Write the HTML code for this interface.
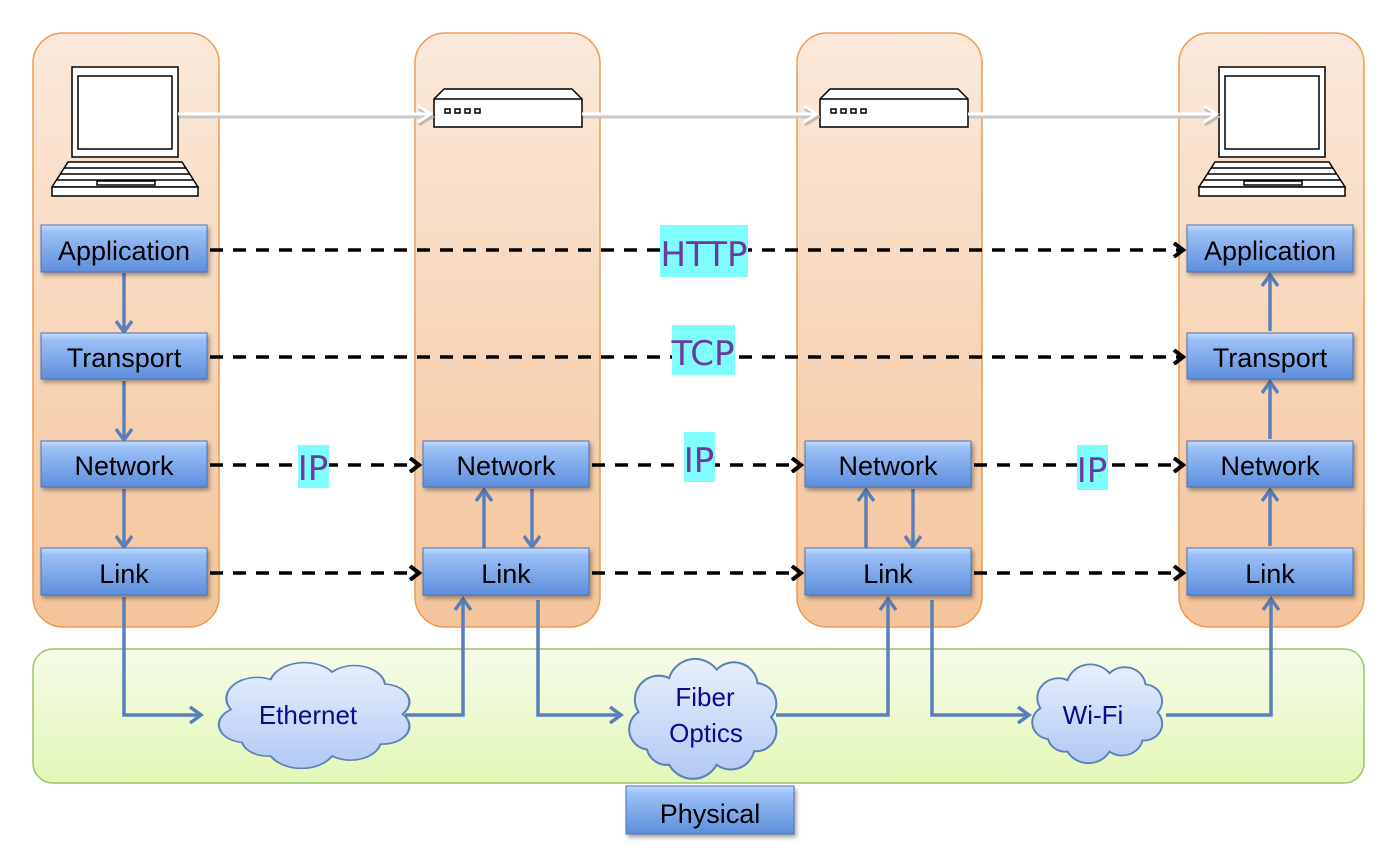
<!DOCTYPE html>
<html><head><meta charset="utf-8"><style>
html,body{margin:0;padding:0;background:#fff;}
svg{display:block;font-family:"Liberation Sans",sans-serif;}
</style></head><body>
<svg width="1396" height="854" viewBox="0 0 1396 854">
<defs>
<linearGradient id="col" x1="0" y1="0" x2="0" y2="1"><stop offset="0" stop-color="#fbe9db"/><stop offset="1" stop-color="#f4c49a"/></linearGradient>
<linearGradient id="grn" x1="0" y1="0" x2="0" y2="1"><stop offset="0" stop-color="#f6fbe9"/><stop offset="1" stop-color="#e2f7b6"/></linearGradient>
<linearGradient id="box" x1="0" y1="0" x2="0" y2="1"><stop offset="0" stop-color="#c5dcfb"/><stop offset="0.15" stop-color="#9cc0f6"/><stop offset="1" stop-color="#5d8fdc"/></linearGradient>
<linearGradient id="cld" x1="0" y1="0" x2="0" y2="1"><stop offset="0" stop-color="#e8effd"/><stop offset="1" stop-color="#b2c9f4"/></linearGradient>
<marker id="bh" markerWidth="16" markerHeight="18" refX="12" refY="9" orient="auto" markerUnits="userSpaceOnUse" viewBox="0 0 16 18"><path d="M2,1 L13,9 L2,17" fill="none" stroke="#5b7fb9" stroke-width="3.5"/></marker>
<marker id="kh" markerWidth="14" markerHeight="16" refX="10" refY="8" orient="auto" markerUnits="userSpaceOnUse" viewBox="0 0 14 16"><path d="M2,1 L11,8 L2,15" fill="none" stroke="#000" stroke-width="4"/></marker>
<marker id="wh" markerWidth="16" markerHeight="18" refX="13" refY="9" orient="auto" markerUnits="userSpaceOnUse" viewBox="0 0 16 18"><path d="M1,1 L14,9 L1,17" fill="none" stroke="#fff" stroke-width="2.5"/></marker>
<marker id="gh" markerWidth="16" markerHeight="18" refX="13" refY="9" orient="auto" markerUnits="userSpaceOnUse" viewBox="0 0 16 18"><path d="M1,1 L14,9 L1,17" fill="none" stroke="#bbb" stroke-width="3"/></marker>
<path id="cloud" d="M20,55 a12,12 0 0 1 -5,-22 a14,14 0 0 1 18,-20 a16,16 0 0 1 28,-5 a14,14 0 0 1 24,8 a12,12 0 0 1 8,20 a12,12 0 0 1 -10,20 a14,14 0 0 1 -22,8 a16,16 0 0 1 -28,0 a12,12 0 0 1 -13,-9 z"/>
<g id="laptop" fill="#fff" stroke="#000" stroke-width="1.5">
<rect x="0" y="0" width="106" height="90"/><rect x="6" y="9" width="94" height="73"/>
<path d="M-4,95 L110,95 L126,120 L-20,120 Z"/><rect x="-20" y="120" width="146" height="9"/>
<line x1="-8" y1="101" x2="114" y2="101"/><line x1="-12" y1="107" x2="118" y2="107"/><line x1="-16" y1="113" x2="122" y2="113"/>
<rect x="25" y="114" width="58" height="4"/></g>
<g id="router" fill="#fff" stroke="#000" stroke-width="1.5">
<path d="M0,10 L10,0 L138,0 L148,10 L148,38 L0,38 Z"/><line x1="0" y1="10" x2="148" y2="10"/>
<rect x="11" y="20" width="5" height="4"/><rect x="21" y="20" width="5" height="4"/><rect x="31" y="20" width="5" height="4"/><rect x="41" y="20" width="5" height="4"/></g>
</defs>

<g fill="url(#col)" stroke="#ef9a55" stroke-width="1.5">
<rect x="33" y="33" width="186" height="594" rx="30"/>
<rect x="415" y="33" width="185" height="594" rx="30"/>
<rect x="797" y="33" width="185" height="594" rx="30"/>
<rect x="1179" y="33" width="185" height="594" rx="30"/>
</g>
<rect x="33" y="649" width="1331" height="134" rx="20" fill="url(#grn)" stroke="#9cc46a" stroke-width="1.5"/>

<use href="#laptop" x="72" y="67"/>
<use href="#laptop" x="1219" y="67"/>
<use href="#router" x="434" y="89"/>
<use href="#router" x="820" y="89"/>
<g stroke="#c8c8c8" stroke-width="3" marker-end="url(#gh)" transform="translate(1,3)">
<line x1="178" y1="114" x2="430" y2="114"/>
<line x1="582" y1="114" x2="816" y2="114"/>
<line x1="968" y1="114" x2="1216" y2="114"/>
</g>
<g stroke="#fff" stroke-width="3" marker-end="url(#wh)">
<line x1="178" y1="114" x2="430" y2="114"/>
<line x1="582" y1="114" x2="816" y2="114"/>
<line x1="968" y1="114" x2="1216" y2="114"/>
</g>

<g stroke="#000" stroke-width="3.5" stroke-dasharray="13,10" fill="none" marker-end="url(#kh)">
<line x1="210" y1="250" x2="1182" y2="250"/>
<line x1="210" y1="357" x2="1182" y2="357"/>
<line x1="210" y1="465" x2="418" y2="465"/>
<line x1="592" y1="465" x2="800" y2="465"/>
<line x1="974" y1="465" x2="1182" y2="465"/>
<line x1="210" y1="573" x2="418" y2="573"/>
<line x1="592" y1="573" x2="800" y2="573"/>
<line x1="974" y1="573" x2="1182" y2="573"/>
</g>

<g font-family="'DejaVu Sans','Liberation Sans',sans-serif" fill="#6c3a9e" text-anchor="middle">
<rect x="660" y="225" width="88" height="52" fill="#7ffcfc"/><text x="704" y="266" font-size="34">HTTP</text>
<rect x="672" y="325" width="63" height="50" fill="#7ffcfc"/><text x="703" y="365" font-size="34">TCP</text>
<rect x="298" y="445" width="31" height="43" fill="#7ffcfc"/><text x="313" y="480" font-size="34">IP</text>
<rect x="684" y="432" width="31" height="50" fill="#7ffcfc"/><text x="699" y="472" font-size="34">IP</text>
<rect x="1077" y="445" width="31" height="45" fill="#7ffcfc"/><text x="1092" y="482" font-size="34">IP</text>
</g>

<g stroke="#5b7fb9" stroke-width="3.5" fill="none" marker-end="url(#bh)">
<line x1="124" y1="273" x2="124" y2="331"/>
<line x1="124" y1="381" x2="124" y2="439"/>
<line x1="124" y1="489" x2="124" y2="546"/>
<line x1="1270" y1="331" x2="1270" y2="276"/>
<line x1="1270" y1="439" x2="1270" y2="383"/>
<line x1="1270" y1="546" x2="1270" y2="491"/>
<line x1="484" y1="548" x2="484" y2="491"/>
<line x1="532" y1="489" x2="532" y2="546"/>
<line x1="866" y1="548" x2="866" y2="491"/>
<line x1="913" y1="489" x2="913" y2="546"/>
<polyline points="124,597 124,715 200,715"/>
<polyline points="538,600 538,715 620,715"/>
<polyline points="932,600 932,715 1028,715"/>
<polyline points="405,715 463,715 463,600"/>
<polyline points="776,715 888,715 888,600"/>
<polyline points="1166,715 1271,715 1271,600"/>
</g>

<g fill="url(#cld)" stroke="#5b7fb9">
<use href="#cloud" transform="translate(198,660) scale(2.2,1.5)" style="stroke-width:1"/>
<use href="#cloud" transform="translate(613,656) scale(1.7,1.7)" style="stroke-width:1.2"/>
<use href="#cloud" transform="translate(1018,662) scale(1.5,1.4)" style="stroke-width:1.3"/>
</g>
<g fill="#0a0a8a" font-size="26" text-anchor="middle">
<text x="308" y="724">Ethernet</text>
<text x="705" y="706">Fiber</text>
<text x="706" y="742">Optics</text>
<text x="1093" y="724">Wi-Fi</text>
</g>

<g fill="url(#box)" stroke="#4a74b8" stroke-width="1" style="filter:drop-shadow(2px 3px 2px rgba(0,0,0,0.35))">
<rect x="41" y="225" width="166" height="47"/><rect x="41" y="333" width="166" height="46"/>
<rect x="41" y="441" width="166" height="46"/><rect x="41" y="548" width="166" height="47"/>
<rect x="423" y="441" width="166" height="46"/><rect x="423" y="548" width="166" height="47"/>
<rect x="805" y="441" width="166" height="46"/><rect x="805" y="548" width="166" height="47"/>
<rect x="1187" y="225" width="166" height="47"/><rect x="1187" y="333" width="166" height="46"/>
<rect x="1187" y="441" width="166" height="46"/><rect x="1187" y="548" width="166" height="47"/>
<rect x="626" y="786" width="168" height="48"/>
</g>
<g fill="#000" font-size="27" text-anchor="middle">
<text x="124" y="260">Application</text><text x="124" y="367">Transport</text>
<text x="124" y="475">Network</text><text x="124" y="583">Link</text>
<text x="506" y="475">Network</text><text x="506" y="583">Link</text>
<text x="888" y="475">Network</text><text x="888" y="583">Link</text>
<text x="1270" y="260">Application</text><text x="1270" y="367">Transport</text>
<text x="1270" y="475">Network</text><text x="1270" y="583">Link</text>
<text x="710" y="823">Physical</text>
</g>
</svg>
</body></html>
